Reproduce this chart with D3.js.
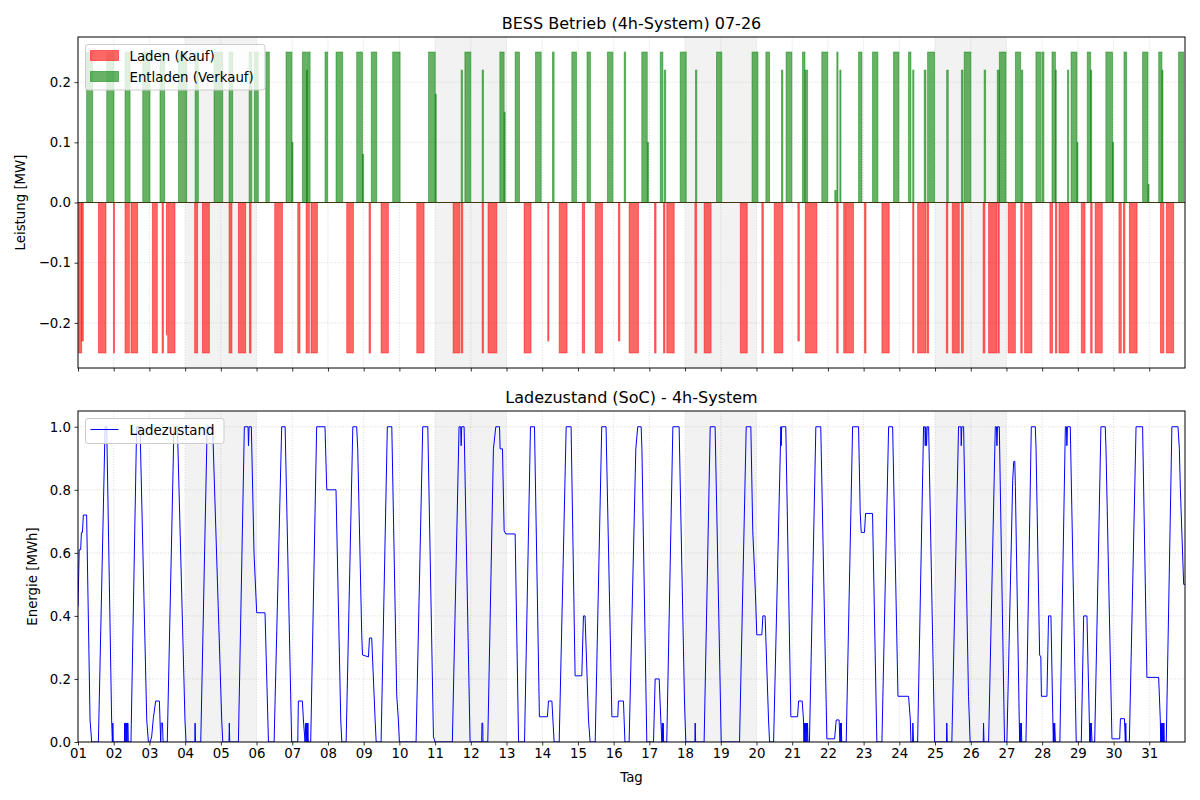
<!DOCTYPE html>
<html><head><meta charset="utf-8">
<script src="https://cdn.jsdelivr.net/npm/d3@7"></script>
<style>body{margin:0;background:#fff}svg{display:block}text{font-family:"DejaVu Sans",sans-serif;fill:#000}</style>
</head><body><svg id="c" width="1200" height="800"></svg>
<script>
// ---------------- DATA ----------------
const dayLabels = ["01","02","03","04","05","06","07","08","09","10","11","12","13","14","15","16","17","18","19","20","21","22","23","24","25","26","27","28","29","30","31"];
const weekendStartDays = [4, 11, 18, 25]; // Sat..Sun (2 days each)
const powerTicks = [-0.2, -0.1, 0.0, 0.1, 0.2];
const socTicks = [0.0, 0.2, 0.4, 0.6, 0.8, 1.0];
const titleTop = "BESS Betrieb (4h-System) 07-26";
const titleBottom = "Ladezustand (SoC) - 4h-System";

// Laden (Kauf): [startHour, endHour, MW]
const chargeMW = [
 [0.5,2.5,-0.25],[2.5,3.6,-0.23],[13.7,18.8,-0.25],[23.8,24.5,-0.25],[31.6,34.5,-0.25],[35.6,40.1,-0.25],
 [50,53.3,-0.25],[56.5,57.4,-0.25],[59.4,59.8,-0.22],[60.3,65.2,-0.25],[78.4,80.4,-0.25],[83.6,88.3,-0.25],
 [101.5,103.5,-0.25],[107.8,112.7,-0.25],[115.2,116.3,-0.25],[132.2,137.4,-0.25],[147.7,149.2,-0.25],
 [153.3,155.5,-0.25],[156.6,160.9,-0.25],[180.6,185.1,-0.25],
 [195.6,196.6,-0.25],[203.7,208.6,-0.25],[227.7,232.6,-0.25],[252.1,256.6,-0.25],[257.5,258.6,-0.25],
 [271.6,272.5,-0.25],[275.6,281.5,-0.25],[299.8,304.5,-0.25],[315.7,316.5,-0.23],[323.4,328.7,-0.25],
 [338.9,340.5,-0.25],[347.6,352.5,-0.25],[363.2,364.2,-0.23],[370.4,376.7,-0.25],
 [387.5,388.5,-0.25],[393.5,394.5,-0.25],[395.7,400.7,-0.25],[414.6,415.8,-0.25],[420.8,425.5,-0.25],
 [445.1,449.8,-0.25],[459.6,460.6,-0.25],[467.9,473.7,-0.25],[483.8,484.8,-0.23],[488.8,496.6,-0.25],
 [509.9,510.9,-0.25],[514.6,515.8,-0.25],[516.3,521.2,-0.25],[528.6,529.6,-0.25],[540.3,545.2,-0.25],
 [561,561.8,-0.25],[564.3,569.9,-0.25],[570.6,571.7,-0.25],[583.6,584.6,-0.25],[587.6,592.3,-0.25],
 [593.7,595,-0.25],[608.3,609.5,-0.25],[612,617.6,-0.25],[618.3,619.2,-0.25],[625.2,630,-0.25],
 [633.6,634.6,-0.25],[636.2,641.1,-0.25],[653.2,655,-0.25],[656.9,657.9,-0.25],[659.3,665.9,-0.25],
 [674.3,676.8,-0.25],[680.6,681.6,-0.25],[683.6,688.4,-0.25],[699.6,701.2,-0.25],[702.6,703.6,-0.25],
 [706.6,711.8,-0.25],[727.5,729.8,-0.25],[731.4,736.4,-0.25]
];
// Entladen (Verkauf): [startHour, endHour, MW]
const dischargeMW = [
 [5.8,9.9,0.25],[19.3,24.2,0.25],[31.6,35,0.25],[43.5,48.4,0.25],[55.1,58.3,0.25],[67.5,73.1,0.25],
 [78.7,80.9,0.25],[91.4,97.3,0.25],[101.5,104,0.25],[115,116.8,0.25],[118.5,121.2,0.25],[126.2,128.6,0.25],
 [139.8,143.8,0.25],[143.8,144.5,0.1],[150.8,153.5,0.25],[153.5,154.2,0.22],[154.2,156,0.25],
 [166,167.8,0.25],[173.4,177.9,0.25],
 [187.3,191.2,0.25],[191.2,192,0.08],[197.1,200.8,0.25],[211.5,216.5,0.25],[235.6,240.1,0.25],
 [240.1,240.8,0.18],[257.5,258.4,0.22],[260,264,0.25],[271.6,272.5,0.22],[283.5,286.4,0.25],
 [286.4,287.1,0.15],[293.8,296.7,0.25],[307.5,311.3,0.25],[318.9,320,0.25],[331.9,335,0.25],
 [342.1,344.4,0.25],[355.8,359.5,0.25],[367.1,368,0.25],
 [378.9,382.6,0.25],[382.6,383.4,0.1],[391.3,393.1,0.25],[394,395,0.22],[404.7,408.8,0.25],
 [415,415.9,0.22],[429.1,432.7,0.25],[453,457,0.25],[462.3,464.8,0.25],[472.8,473.7,0.22],
 [475.9,479.8,0.25],[486.9,488.6,0.25],[488.6,490.4,0.22],[499.9,503.9,0.25],[508.6,509.6,0.02],
 [510,510.8,0.25],[512,512.8,0.22],[524.6,526.9,0.25],[534,537.6,0.25],[548.1,551.7,0.25],
 [558.2,559.8,0.25],[561,561.8,0.22],[568.7,569.9,0.22],[571,575.7,0.25],[583.8,584.9,0.22],
 [593.7,594.8,0.22],[595.6,600.1,0.25],[609,610,0.22],[617.8,619.2,0.22],[619.2,623.7,0.25],
 [630,633.6,0.25],[634.1,635,0.22],[643.8,647,0.25],[647.8,649.2,0.25],[654.6,656.9,0.25],
 [656.9,657.5,0.22],[665,665.9,0.22],[667.4,671.4,0.25],[671.4,672,0.1],[678.3,680.6,0.25],
 [680.6,681.3,0.22],[690.8,695.3,0.25],[695.3,696,0.1],[703,704.8,0.25],[715.5,719.1,0.25],
 [719.1,719.8,0.03],[726.3,728.5,0.25],[728.5,729.2,0.22],[739.7,743.1,0.25]
];
// Ladezustand: [hour, MWh]
const socMWh = [
 [0,0.43],[0.8,0.61],[1.8,0.61],[2.3,0.665],[3.0,0.665],[3.6,0.72],[5.8,0.72],[8.1,0.07],[9.2,0],
 [13.7,0],[18.2,1],[19.3,1],[22.6,0.07],[23.1,0],[23.4,0.06],[23.7,0],
 [31.2,0],[31.4,0.06],[31.6,0],[31.9,0.06],[32.2,0.06],[32.4,0],[32.7,0.06],[33.0,0],[33.3,0.06],[33.6,0.06],[33.8,0],
 [35.6,0],[39.4,1],[41.7,1],[46.2,0.07],[47.3,0],
 [48.5,0],[49.5,0.016],[50.6,0.074],[52.2,0.13],[54.7,0.13],[55.6,0],[55.9,0.06],[56.8,0.06],[57.2,0],
 [60,0],[64.5,1],[66.8,1],[71.9,0.07],[72.6,0],
 [78.5,0],[78.7,0.06],[79,0],
 [82.5,0],[86.8,1],[90.5,1],[96.6,0.07],[97.3,0],
 [101.5,0],[101.7,0.06],[102,0],
 [107.8,0],[111.8,1],[114.3,1],[114.6,0.94],[115,1],[116.5,1],[118.3,0.6],[120.1,0.41],[125.7,0.41],[128,0],
 [131.8,0],[136.9,1],[139.2,1],[143.6,0],
 [147.7,0],[148.1,0.13],[150.8,0.13],[151.5,0.07],[152.6,0],[153.1,0.06],[153.4,0],[153.8,0.06],[154.1,0],[154.5,0.06],[154.8,0],
 [156.4,0],[160.4,1],[166,1],[167.2,0.8],[173.4,0.8],[176.6,0.07],[177.3,0],
 [180.2,0],[184.7,1],[187.3,1],[188,0.93],[190.7,0.34],[191.2,0.276],[195.2,0.27],[195.9,0.33],[197.4,0.33],[199.7,0.07],[200.4,0],
 [203.7,0],[207.9,1],[210.9,1],[214.2,0.15],[215.3,0.07],[216,0],
 [227.2,0],[231.7,1],[235.1,1],[238.9,0.016],[240,0],
 [251.6,0],[256.1,1],[257.2,1],[257.5,0.94],[257.9,1],[259.5,1],[263.5,0],
 [271.3,0],[271.5,0.06],[272,0.06],[272.2,0],
 [275.4,0],[279.2,0.93],[280.8,1],[283.3,1],[283.7,0.93],[285.3,0.93],[286.4,0.67],[287.5,0.66],[293.8,0.66],[296.1,0],
 [300.1,0],[304.1,1],[306.8,1],[310.1,0.08],[315.5,0.08],[316.2,0.13],[318.5,0.13],[320,0],
 [323.4,0],[328.1,1],[331.4,1],[334.1,0.21],[338.6,0.21],[339.7,0.4],[340.8,0.4],[343.1,0.07],[344.2,0],
 [347.6,0],[352,1],[354.9,1],[358.8,0.08],[362.8,0.08],[363.2,0.13],[366.6,0.13],[367.6,0],
 [370.4,0],[374.9,0.93],[376.2,1],[378.5,1],[379,0.93],[382.3,0],
 [386.8,0],[387.9,0.2],[390.6,0.2],[391.7,0.07],[392.4,0],[392.7,0.06],[393,0],[393.3,0.06],[393.6,0],
 [395.7,0],[399.8,1],[404,1],[407.6,0.13],[408.5,0],
 [414.6,0],[414.8,0.06],[415.1,0],
 [420.8,0],[424.9,1],[428.2,1],[432.3,0],
 [444.6,0],[449.1,1],[452.2,1],[453.5,0.67],[454.7,0.54],[455.3,0.47],[456.2,0.34],[459.6,0.34],[460.3,0.4],[461.8,0.4],[464.1,0.07],[464.8,0],
 [467.5,0],[472.4,1],[472.6,0.94],[472.9,1],[475.7,1],[479.1,0.08],[483.6,0.08],[484.3,0.13],[486.7,0.13],[487.6,0.07],[487.9,0],[488.2,0.06],[488.5,0],[488.9,0.06],[489.2,0],[489.6,0.06],[489.9,0],[490.3,0.06],[490.6,0],
 [491.6,0],[495.9,1],[499.2,1],[503.3,0.01],[508.5,0.01],[509.6,0.07],[511.5,0.07],[512.1,0],[512.4,0.06],[512.7,0],[513,0.06],[513.3,0],
 [516.3,0],[520.6,1],[524.6,1],[525.7,0.73],[526.4,0.665],[528.6,0.665],[529.3,0.725],[534,0.725],[536.9,0],
 [540.3,0],[544.8,1],[547.5,1],[551.1,0.145],[558.2,0.145],[559.4,0.07],[559.8,0],[560.9,0],[561.1,0.06],[561.5,0],
 [564.3,0],[568.3,1],[569.2,1],[569.4,0.94],[569.8,1],[570.3,0.94],[570.7,1],[571.7,1],[575.7,0],
 [583.7,0],[583.9,0.06],[584.2,0],
 [587.3,0],[591.8,1],[593.4,1],[593.6,0.94],[594,1],[595.2,1],[598.5,0.145],[599.6,0],
 [608.4,0],[608.6,0.06],[608.9,0],
 [612,0],[616.5,1],[617.3,1],[617.6,0.94],[618,1],[619.2,1],[622.7,0],[624.3,0],
 [628.2,0.83],[628.9,0.89],[629.6,0.89],[630,0.81],[632.6,0.07],[632.9,0],[633.2,0.06],[633.6,0],[634,0.06],[634.3,0],
 [637.1,0],[640.7,1],[643.4,1],[643.9,0.93],[646.3,0.276],[647.1,0.27],[647.5,0.145],[651.2,0.145],[652.3,0.4],[653.9,0.4],[655.2,0.07],[655.5,0],[655.8,0.06],[656.1,0],[656.4,0.06],[656.9,0],
 [659.9,0],[663.6,1],[664.3,1],[664.6,0.94],[665,1],[666.9,1],[670.9,0],
 [674.3,0],[675.9,0.4],[678.1,0.4],[679.7,0.07],[680,0],[680.3,0.06],[680.6,0],[681,0.06],[681.5,0],
 [683.3,0],[687.5,1],[690.4,1],[690.9,0.93],[694.9,0.01],[700.1,0.01],[700.6,0.074],[703.3,0.074],[703.9,0],[704.2,0.06],[704.5,0],
 [706.6,0],[711.1,1],[715.5,1],[718.4,0.205],[726.3,0.205],[727.4,0.07],[727.7,0],[728,0.06],[728.3,0],[728.6,0.06],[728.9,0],[729.2,0.06],[729.5,0],[729.8,0.06],[730.1,0],
 [731.4,0],[735.2,1],[739.3,1],[740.2,0.93],[740.9,0.8],[743.1,0.5],[744,0.5]
];

// ---------------- DRAW ----------------
const svg = d3.select('#c');
const L = 78, R = 1185;
const P1 = {top: 37, bottom: 368}, P2 = {top: 411, bottom: 742};
const hoursTotal = dayLabels.length * 24;
const x = d3.scaleLinear().domain([0, hoursTotal]).range([L, R]);
const yP = d3.scaleLinear().domain([-0.275, 0.275]).range([P1.bottom, P1.top]);
const yS = d3.scaleLinear().domain([0, 1.05]).range([P2.bottom, P2.top]);
const dayTicks = dayLabels.map((d, i) => i * 24);
const fmt = d3.format('.1f');
const FS = 13.33;

const defs = svg.append('defs');
[['clip1', P1], ['clip2', P2]].forEach(([id, p]) => {
  defs.append('clipPath').attr('id', id).append('rect')
    .attr('x', L).attr('y', p.top).attr('width', R - L).attr('height', p.bottom - p.top);
});

function panelBase(p, yScale, yTicks, clipId) {
  const g = svg.append('g').attr('clip-path', `url(#${clipId})`);
  // weekend spans
  g.selectAll('rect.we').data(weekendStartDays).join('rect')
    .attr('x', d => x((d - 1) * 24)).attr('width', d => x((d + 1) * 24) - x((d - 1) * 24))
    .attr('y', p.top).attr('height', p.bottom - p.top)
    .attr('fill', '#808080').attr('fill-opacity', 0.1);
  // grid
  g.selectAll('line.gx').data(dayTicks).join('line')
    .attr('x1', d => x(d)).attr('x2', d => x(d)).attr('y1', p.top).attr('y2', p.bottom)
    .attr('stroke', '#b0b0b0').attr('stroke-opacity', 0.6).attr('stroke-width', 0.8).attr('stroke-dasharray', '1,1.65');
  g.selectAll('line.gy').data(yTicks).join('line')
    .attr('x1', L).attr('x2', R).attr('y1', d => yScale(d)).attr('y2', d => yScale(d))
    .attr('stroke', '#b0b0b0').attr('stroke-opacity', 0.6).attr('stroke-width', 0.8).attr('stroke-dasharray', '1,1.65');
  return g;
}

function axes(p, yScale, yTicks, withLabels) {
  const ax = svg.append('g').attr('transform', `translate(0,${p.bottom})`)
    .call(d3.axisBottom(x).tickValues(dayTicks).tickSize(3.5).tickPadding(3.5)
      .tickFormat((d, i) => withLabels ? dayLabels[i] : ''));
  ax.select('.domain').remove();
  ax.selectAll('line').attr('stroke', '#000').attr('stroke-width', 0.8);
  ax.selectAll('text').attr('font-size', FS).attr('font-family', '"DejaVu Sans",sans-serif').attr('fill', '#000');
  const ay = svg.append('g').attr('transform', `translate(${L},0)`)
    .call(d3.axisLeft(yScale).tickValues(yTicks).tickSize(3.5).tickPadding(3.5).tickFormat(fmt));
  ay.select('.domain').remove();
  ay.selectAll('line').attr('stroke', '#000').attr('stroke-width', 0.8);
  ay.selectAll('text').attr('font-size', FS).attr('font-family', '"DejaVu Sans",sans-serif').attr('fill', '#000');
  svg.append('rect').attr('x', L).attr('y', p.top).attr('width', R - L).attr('height', p.bottom - p.top)
    .attr('fill', 'none').attr('stroke', '#000').attr('stroke-width', 1);
}

// ---- Panel 1: power ----
const g1 = panelBase(P1, yP, powerTicks, 'clip1');
g1.selectAll('rect.ch').data(chargeMW).join('rect')
  .attr('x', d => x(d[0])).attr('width', d => Math.max(0.4, x(d[1]) - x(d[0])))
  .attr('y', yP(0)).attr('height', d => yP(d[2]) - yP(0))
  .attr('fill', 'red').attr('fill-opacity', 0.6)
  .attr('stroke', 'red').attr('stroke-opacity', 0.5).attr('stroke-width', 0.9);
g1.selectAll('rect.dc').data(dischargeMW).join('rect')
  .attr('x', d => x(d[0])).attr('width', d => Math.max(0.4, x(d[1]) - x(d[0])))
  .attr('y', d => yP(d[2])).attr('height', d => yP(0) - yP(d[2]))
  .attr('fill', 'green').attr('fill-opacity', 0.6)
  .attr('stroke', 'green').attr('stroke-opacity', 0.5).attr('stroke-width', 0.9);
g1.append('line').attr('x1', L).attr('x2', R).attr('y1', yP(0)).attr('y2', yP(0))
  .attr('stroke', '#3d3a10').attr('stroke-width', 1.2);
axes(P1, yP, powerTicks, false);

// ---- Panel 2: SoC ----
const g2 = panelBase(P2, yS, socTicks, 'clip2');
g2.append('path').datum(socMWh)
  .attr('d', d3.line().x(d => x(d[0])).y(d => yS(d[1])))
  .attr('fill', 'none').attr('stroke', 'blue').attr('stroke-width', 1).attr('stroke-linejoin', 'round');
axes(P2, yS, socTicks, true);

// titles & labels
svg.append('text').attr('x', (L + R) / 2).attr('y', 29).attr('text-anchor', 'middle').attr('font-size', 16).text(titleTop);
svg.append('text').attr('x', (L + R) / 2).attr('y', 403).attr('text-anchor', 'middle').attr('font-size', 16).text(titleBottom);
svg.append('text').attr('transform', `translate(25,${(P1.top + P1.bottom) / 2}) rotate(-90)`).attr('text-anchor', 'middle').attr('font-size', FS).text('Leistung [MW]');
svg.append('text').attr('transform', `translate(37,${(P2.top + P2.bottom) / 2}) rotate(-90)`).attr('text-anchor', 'middle').attr('font-size', FS).text('Energie [MWh]');
svg.append('text').attr('x', (L + R) / 2).attr('y', 782).attr('text-anchor', 'middle').attr('font-size', FS).text('Tag');

// legends
function legendBox(x0, y0, w, h) {
  svg.append('rect').attr('x', x0).attr('y', y0).attr('width', w).attr('height', h).attr('rx', 2.5)
    .attr('fill', '#fff').attr('fill-opacity', 0.8).attr('stroke', '#cccccc').attr('stroke-width', 1);
}
legendBox(85.5, 44.5, 179.5, 45.5);
const legTop = [['Laden (Kauf)', 'red'], ['Entladen (Verkauf)', 'green']];
legTop.forEach((it, i) => {
  const yy = 50.5 + i * 21;
  svg.append('rect').attr('x', 90.5).attr('y', yy).attr('width', 28).attr('height', 10)
    .attr('fill', it[1]).attr('fill-opacity', 0.6).attr('stroke', it[1]).attr('stroke-opacity', 0.5);
  svg.append('text').attr('x', 129.5).attr('y', yy + 10).attr('font-size', FS).text(it[0]);
});
legendBox(85.5, 418.5, 138.5, 25);
svg.append('line').attr('x1', 90.5).attr('x2', 118.5).attr('y1', 429.5).attr('y2', 429.5).attr('stroke', 'blue').attr('stroke-width', 1);
svg.append('text').attr('x', 129.5).attr('y', 434.5).attr('font-size', FS).text('Ladezustand');
</script></body></html>
